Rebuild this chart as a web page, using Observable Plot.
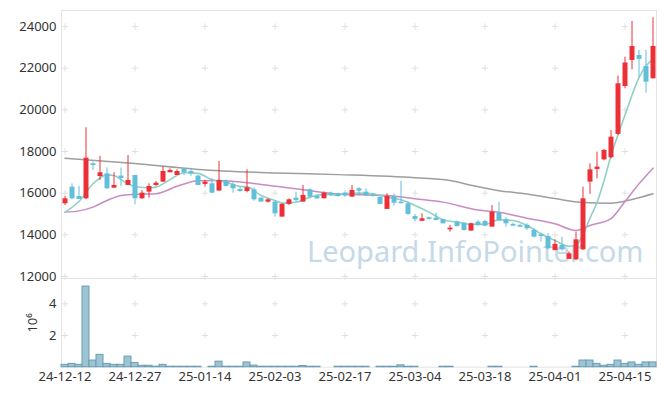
<!DOCTYPE html>
<html><head><meta charset="utf-8">
<script src="https://cdn.jsdelivr.net/npm/d3@7"></script>
<script src="https://cdn.jsdelivr.net/npm/@observablehq/plot@0.6"></script>
<style>
body{margin:0;background:#fff;}
#chart{position:relative;width:665px;height:396px;font-family:"Noto Sans",sans-serif;background:#fff;}
#chart svg{display:block;position:absolute;left:0;overflow:visible;}
</style></head><body><div id="chart"></div>
<script>
// ---- data ----
const xTickIdx = [0,10,20,30,40,50,60,70,80];
const xTickLabels = ["24-12-12","24-12-27","25-01-14","25-02-03","25-02-17","25-03-04","25-03-18","25-04-01","25-04-15"];
const priceTicks = [12000,14000,16000,18000,20000,22000,24000];
const volTicks = [2,4];

const open = [15490,16290,15840,15730,17410,16800,16930,16240,16820,16370,16850,15730,16050,16370,16530,16980,16850,17170,17040,16820,16420,16450,16100,16570,16400,16180,16080,16160,15760,15570,15570,14850,15460,15760,15570,16160,15840,15730,16000,15970,16000,15810,16210,16050,15920,15810,15220,15840,15570,15490,14880,14650,14820,14800,14720,14240,14610,14560,14180,14610,14640,14370,15040,14720,14500,14450,14450,14210,14000,13920,13250,13490,12820,12800,13280,16530,17140,17600,17700,18820,21120,22370,22610,22080,21490];
const close = [15730,15730,15700,17680,17330,16980,16210,16370,16770,16610,15730,16000,16320,16480,17040,17090,17040,16980,16930,16370,16530,16000,16610,16320,16210,16080,16260,15680,15570,15680,15010,15460,15680,15650,15890,15810,15730,16000,15890,15840,15860,16130,16160,15860,15840,15460,15840,15520,15490,14980,14740,14770,14740,14690,14530,14320,14400,14210,14530,14450,14420,15090,14690,14530,14420,14370,14290,13890,13920,13330,13540,13280,13090,13760,15730,17120,17250,18050,18690,21250,22250,23040,22420,21330,23040];
const high = [15840,16450,16320,19140,17490,17760,17220,16980,17200,17810,16850,16130,16450,16560,17280,17170,17120,17170,17170,16850,16610,16690,17520,16640,16530,16290,17120,16260,15780,15730,15650,15490,15730,16050,16370,16210,15890,16050,16050,16000,16050,16370,16260,16210,15970,15810,15970,15970,16570,15570,14980,15010,14850,15040,14740,14450,14660,14560,14560,14690,14690,15410,15570,14820,14560,14500,14530,14290,14050,14050,13760,13890,13170,14130,16290,17410,17970,18100,19010,21620,22530,24240,22850,22850,24420];
const low = [15410,15700,15700,15700,17090,16610,16180,16240,16330,16370,15440,15700,15760,16320,16530,16980,16850,16850,16810,16370,16290,15970,16100,16290,16000,16050,16020,15620,15570,15520,14850,14850,15410,15600,15570,15730,15700,15730,15840,15810,15810,15810,15860,15840,15810,15460,15220,15380,15490,14930,14620,14650,14700,14660,14530,14130,14370,14180,14180,14420,14400,14370,14660,14370,14400,14340,14210,13860,13650,13280,13220,13220,12820,12770,13250,15940,16690,17550,17650,18770,21010,21920,21570,20800,21490];
// volume in millions
const volume = [0.15,0.21,0.15,5.09,0.42,0.78,0.21,0.15,0.15,0.67,0.27,0.09,0.09,0.03,0.15,0.03,0.03,0.03,0.03,0.03,0,0.03,0.35,0.03,0.03,0.03,0.3,0.1,0.03,0.03,0.03,0.03,0.03,0.03,0.08,0.03,0.03,0,0,0.03,0.03,0.03,0.03,0.03,0,0.03,0.03,0.03,0.12,0.03,0.03,0,0,0,0.03,0.03,0,0,0,0,0,0.03,0.03,0,0,0,0,0.03,0,0,0,0,0,0.03,0.42,0.42,0.21,0.09,0.15,0.42,0.21,0.3,0.15,0.3,0.3];

// moving averages
const maShortIdx = [0,2,4,6,7,8,10,12,13,15,17,19,21,23,25,26,28,30,31,33,35,37,39,40,42,44,46,48,50,52,54,56,58,60,62,64,66,68,70,72,73,74,75,76,77,78,79,80,81,82,83,84];
const maShortVal = [15090,15600,16450,16880,16850,16650,16320,16260,16290,16650,16980,16950,16640,16530,16320,16310,15890,15650,15520,15570,15810,15940,15920,15970,16000,15970,15810,15680,15410,15090,14720,14610,14500,14500,14720,14690,14450,14050,13730,13450,13500,14000,14800,15550,16600,17800,18800,19750,20700,21550,22100,22450];
const maMidIdx = [0,2,4,6,8,10,13,16,19,22,28,34,39,46,50,54,59,62,66,70,73,75,78,80,82,84];
const maMidVal = [15090,15150,15330,15650,15890,15940,15970,16330,16600,16610,16420,16160,15960,15890,15730,15570,15190,15080,14800,14530,14210,14450,14780,15600,16450,17200];
const maLongIdx = [0,10,19,30,39,50,55,58,62,66,70,74,78,81,84];
const maLongVal = [17680,17420,17140,16970,16890,16740,16610,16380,16120,15960,15740,15550,15520,15700,15970];

// ---- drawing ----
const idx = d3.range(open.length);
const up = idx.filter(i => close[i] >= open[i]);
const down = idx.filter(i => close[i] < open[i]);
const RED = "#ec3038", BLUE = "#62bfd9";
const font = {fontFamily: '"Noto Sans", sans-serif', fontSize: "13px", color: "#333", background: "transparent"};
const xOpt = {domain: [-0.5, 84.5], axis: null};
const cross = (xs, ys) => xs.flatMap(x => ys.map(y => ({x, y})));

const pricePlot = Plot.plot({
  width: 665, height: 278,
  marginLeft: 61, marginRight: 9, marginTop: 10, marginBottom: 0,
  style: font,
  x: xOpt,
  y: {domain: [11904, 24768], axis: null},
  marks: [
    Plot.frame({stroke: "#e4e4e4"}),
    Plot.dot(cross(xTickIdx, priceTicks), {x: "x", y: "y", symbol: "plus", r: 2.2, stroke: "#e0e0e0", strokeWidth: 1}),
    Plot.text(["Leopard.InfoPointer.com"], {frameAnchor: "bottom-right", textAnchor: "end", lineAnchor: "middle", dx: -13, dy: -26, fontSize: 29, fill: "#c5d9e7"}),
    Plot.axisY(priceTicks, {tickSize: 0, tickPadding: 5, tickFormat: d => String(d), label: null}),
    Plot.line(maLongIdx, {x: i => i, y: (d, k) => maLongVal[k], stroke: "#9e9e9e", strokeWidth: 1.5, curve: "monotone-x"}),
    Plot.line(maMidIdx, {x: i => i, y: (d, k) => maMidVal[k], stroke: "#c98bc4", strokeWidth: 1.5, curve: "monotone-x"}),
    Plot.line(maShortIdx, {x: i => i, y: (d, k) => maShortVal[k], stroke: "#8fd0c7", strokeWidth: 1.6, curve: "monotone-x"}),
    Plot.ruleX(up, {x: i => i, y1: i => low[i], y2: i => high[i], stroke: RED, strokeWidth: 1}),
    Plot.ruleX(down, {x: i => i, y1: i => low[i], y2: i => high[i], stroke: BLUE, strokeWidth: 1}),
    Plot.ruleX(up, {x: i => i, y1: i => open[i], y2: i => close[i] + (close[i] - open[i] < 60 ? 60 : 0), stroke: RED, strokeWidth: 5}),
    Plot.ruleX(down, {x: i => i, y1: i => open[i], y2: i => close[i] - (open[i] - close[i] < 60 ? 60 : 0), stroke: BLUE, strokeWidth: 5})
  ]
});

const volPlot = Plot.plot({
  width: 665, height: 118,
  marginLeft: 61, marginRight: 9, marginTop: 0, marginBottom: 29.3,
  style: font,
  x: xOpt,
  y: {domain: [0, 5.6], axis: null},
  marks: [
    Plot.frame({stroke: "#e4e4e4"}),
    Plot.dot(cross(xTickIdx, volTicks), {x: "x", y: "y", symbol: "plus", r: 2.2, stroke: "#e0e0e0", strokeWidth: 1}),
    Plot.rectY(idx.filter(i => volume[i] > 0), {x1: i => i - 0.5, x2: i => i + 0.5, y: i => volume[i], fill: "#9cc4d4", stroke: "#6a9db3", strokeWidth: 1}),
    Plot.axisY(volTicks, {tickSize: 0, tickPadding: 5, tickFormat: d => String(d), label: "10⁶", labelAnchor: "center", labelArrow: "none", labelOffset: 34}),
    Plot.axisX(xTickIdx, {tickSize: 0, tickPadding: 5, tickFormat: d => xTickLabels[xTickIdx.indexOf(d)], label: null})
  ]
});

const chart = document.getElementById("chart");
volPlot.style.top = "278px";
volPlot.style.zIndex = "0";
pricePlot.style.top = "0px";
pricePlot.style.zIndex = "1";
chart.appendChild(volPlot);
chart.appendChild(pricePlot);
</script>
</body></html>
